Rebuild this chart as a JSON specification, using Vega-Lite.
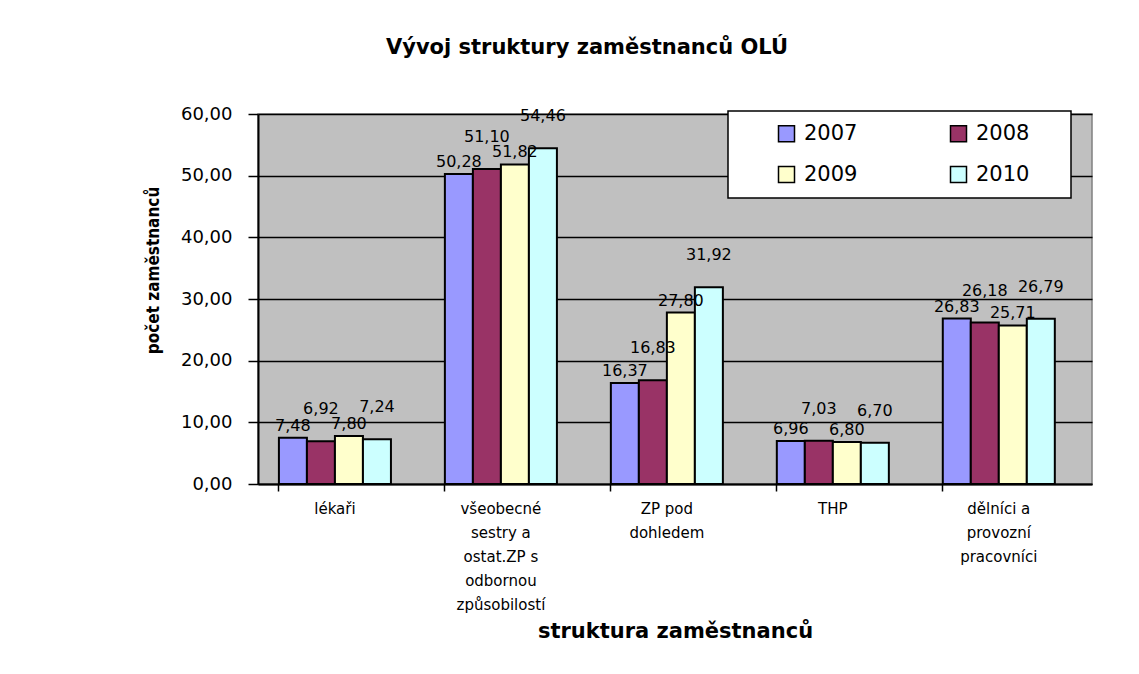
{
  "$schema": "https://vega.github.io/schema/vega-lite/v6.json",
  "autosize": "none",
  "width": 834,
  "height": 370,
  "padding": {"left": 258, "top": 114, "right": 47, "bottom": 190},
  "background": "white",
  "title": {
    "text": "Vývoj struktury zaměstnanců OLÚ",
    "font": "DejaVu Sans, sans-serif",
    "fontSize": 21,
    "fontWeight": "bold",
    "color": "black",
    "anchor": "middle",
    "dx": -88,
    "offset": 47
  },
  "data": {
    "values": [
      {"kategorie": "lékaři", "rok": "2007", "pocet": 7.48},
      {"kategorie": "lékaři", "rok": "2008", "pocet": 6.92},
      {"kategorie": "lékaři", "rok": "2009", "pocet": 7.80},
      {"kategorie": "lékaři", "rok": "2010", "pocet": 7.24},
      {"kategorie": "všeobecné sestry a ostat.ZP s odbornou způsobilostí", "rok": "2007", "pocet": 50.28},
      {"kategorie": "všeobecné sestry a ostat.ZP s odbornou způsobilostí", "rok": "2008", "pocet": 51.10},
      {"kategorie": "všeobecné sestry a ostat.ZP s odbornou způsobilostí", "rok": "2009", "pocet": 51.82},
      {"kategorie": "všeobecné sestry a ostat.ZP s odbornou způsobilostí", "rok": "2010", "pocet": 54.46},
      {"kategorie": "ZP pod dohledem", "rok": "2007", "pocet": 16.37},
      {"kategorie": "ZP pod dohledem", "rok": "2008", "pocet": 16.83},
      {"kategorie": "ZP pod dohledem", "rok": "2009", "pocet": 27.80},
      {"kategorie": "ZP pod dohledem", "rok": "2010", "pocet": 31.92},
      {"kategorie": "THP", "rok": "2007", "pocet": 6.96},
      {"kategorie": "THP", "rok": "2008", "pocet": 7.03},
      {"kategorie": "THP", "rok": "2009", "pocet": 6.80},
      {"kategorie": "THP", "rok": "2010", "pocet": 6.70},
      {"kategorie": "dělníci a provozní pracovníci", "rok": "2007", "pocet": 26.83},
      {"kategorie": "dělníci a provozní pracovníci", "rok": "2008", "pocet": 26.18},
      {"kategorie": "dělníci a provozní pracovníci", "rok": "2009", "pocet": 25.71},
      {"kategorie": "dělníci a provozní pracovníci", "rok": "2010", "pocet": 26.79}
    ]
  },
  "encoding": {
    "x": {
      "field": "kategorie",
      "type": "nominal",
      "sort": null,
      "scale": {"paddingInner": 0.325, "paddingOuter": 0.175, "align": 0.36},
      "axis": {
        "title": "struktura zaměstnanců",
        "titleFont": "DejaVu Sans, sans-serif",
        "titleFontSize": 21,
        "titleFontWeight": "bold",
        "titleColor": "black",
        "titlePadding": 8,
        "labelAngle": 0,
        "labelFont": "DejaVu Sans, sans-serif",
        "labelFontSize": 15,
        "labelColor": "black",
        "labelLineHeight": 24,
        "labelPadding": 10,
        "labelLimit": 300,
        "labelExpr": "datum.value == 'všeobecné sestry a ostat.ZP s odbornou způsobilostí' ? ['všeobecné', 'sestry a', 'ostat.ZP s', 'odbornou', 'způsobilostí'] : datum.value == 'ZP pod dohledem' ? ['ZP pod', 'dohledem'] : datum.value == 'dělníci a provozní pracovníci' ? ['dělníci a', 'provozní', 'pracovníci'] : datum.value",
        "bandPosition": 0,
        "tickColor": "black",
        "tickSize": 7,
        "tickWidth": 1.5,
        "domainColor": "black",
        "domainWidth": 2
      }
    },
    "xOffset": {"field": "rok", "type": "nominal", "scale": {"paddingInner": 0, "paddingOuter": 0}},
    "y": {
      "field": "pocet",
      "type": "quantitative",
      "scale": {"domain": [0, 60], "nice": false},
      "axis": {
        "title": "počet zaměstnanců",
        "titleFont": "Liberation Sans Narrow, DejaVu Sans Condensed, sans-serif",
        "titleFontSize": 17,
        "titleFontWeight": "bold",
        "titleColor": "black",
        "titlePadding": 18,
        "titleY": 156,
        "values": [0, 10, 20, 30, 40, 50, 60],
        "format": ".2f",
        "labelFont": "DejaVu Sans, sans-serif",
        "labelFontSize": 18,
        "labelColor": "black",
        "labelPadding": 16,
        "tickColor": "black",
        "tickSize": 10,
        "tickWidth": 1.5,
        "domainColor": "black",
        "domainWidth": 2,
        "grid": true,
        "gridColor": "black",
        "gridWidth": 1.3
      }
    }
  },
  "layer": [
    {
      "mark": {"type": "bar", "stroke": "black", "strokeWidth": 2},
      "encoding": {
        "color": {
          "field": "rok",
          "type": "nominal",
          "scale": {"domain": ["2007", "2008", "2009", "2010"], "range": ["#9999FF", "#993366", "#FFFFCC", "#CCFFFF"]},
          "legend": {
            "title": "\u00a0",
            "titleOrient": "right",
            "titleFontSize": 21,
            "titlePadding": 30,
            "orient": "none",
            "legendX": 470,
            "legendY": -3,
            "columns": 2,
            "direction": "horizontal",
            "fillColor": "white",
            "strokeColor": "black",
            "padding": 12,
            "symbolType": "square",
            "symbolSize": 256,
            "symbolStrokeColor": "black",
            "symbolStrokeWidth": 1.5,
            "symbolOffset": 36,
            "labelFont": "DejaVu Sans, sans-serif",
            "labelFontSize": 21,
            "labelColor": "black",
            "labelOffset": 7,
            "rowPadding": 18,
            "columnPadding": 54,
            "encode": {"legend": {"update": {"strokeWidth": {"value": 1.5}}}}
          }
        }
      }
    },
    {
      "transform": [{"filter": "datum.rok == '2007' || datum.rok == '2009'"}],
      "mark": {"type": "text", "baseline": "bottom", "dy": -4, "font": "DejaVu Sans, sans-serif", "fontSize": 16, "color": "black"},
      "encoding": {
        "text": {"field": "pocet", "type": "quantitative", "format": ".2f"}
      }
    },
    {
      "transform": [{"filter": "datum.rok == '2008' || datum.rok == '2010'"}],
      "mark": {"type": "text", "baseline": "bottom", "dy": -24, "font": "DejaVu Sans, sans-serif", "fontSize": 16, "color": "black"},
      "encoding": {
        "text": {"field": "pocet", "type": "quantitative", "format": ".2f"}
      }
    }
  ],
  "config": {
    "locale": {"number": {"decimal": ",", "thousands": " ", "grouping": [3], "currency": ["", " Kč"]}},
    "view": {"fill": "#C0C0C0", "stroke": "#808080", "strokeWidth": 1.5}
  }
}
